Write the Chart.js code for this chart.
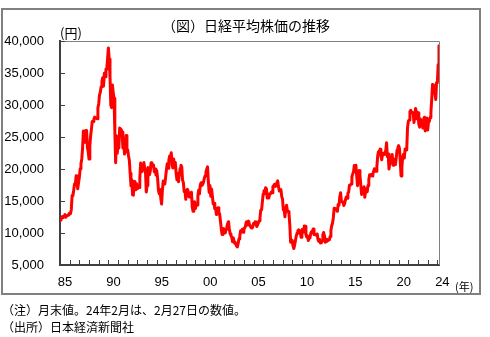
<!DOCTYPE html>
<html>
<head>
<meta charset="utf-8">
<script src="https://cdn.jsdelivr.net/npm/chart.js@4.4.1/dist/chart.umd.min.js"></script>
<style>
html,body{margin:0;padding:0;background:#fff;}
canvas{display:block;}
</style>
</head>
<body>
<canvas id="c" width="490" height="337"></canvas>
<script>
// Monthly month-end values of the Nikkei 225 (yen)
const close1985to1989 = [
  11992,12322,12580,12426,12639,12882,12461,12695,12700,12800,12985,13113,
  13024,13641,15860,15826,16670,17654,17555,18936,17853,16910,17852,18701,
  20024,20767,21567,23275,25929,24176,24488,26029,26011,23329,22687,21564,
  23622,25157,26260,27434,27417,27769,28102,27911,27924,27865,29579,30159,
  31581,31985,32839,33713,34266,32948,34954,34431,35636,35549,37268,38916
];
const close1990to1999 = [
  37189,34592,29980,29584,33131,31940,31036,25978,20984,25194,22454,23849,
  23293,26409,26292,26111,25790,23291,24121,22336,23916,25222,22688,22984,
  22023,21339,19346,17391,18348,15952,15910,18061,17399,16767,17684,16925,
  17024,17098,18591,20919,20552,19590,20380,21027,20106,19704,16408,17417,
  20229,19997,19112,19725,20974,20644,20449,20629,19564,19990,19076,19723,
  18650,16808,16140,16807,15437,14517,16678,18117,17913,17655,18744,19868,
  20813,20125,21407,22041,21956,22531,20693,20167,21556,20467,21020,19361,
  18330,18557,18003,19151,20069,20605,20331,18229,17888,16459,16631,15259,
  16628,16832,16527,15641,15671,15831,16379,14108,13406,13565,14884,13842,
  14499,14368,15837,16702,16112,17530,17862,17437,17605,17942,18558,18934
];
const close2000to2009 = [
  19540,19960,20337,17974,16332,17411,15727,16861,15747,14539,14649,13786,
  13844,12884,12999,13934,13262,12969,11861,10714,9775,10366,10697,10543,
  9998,10588,11025,11493,11764,10622,9878,9619,9383,8640,9216,8579,
  8340,8363,7973,7831,8425,9083,9563,10344,10219,10560,10101,10677,
  10784,11042,11715,11762,11236,11859,11326,11082,10824,10771,10899,11489,
  11388,11740,11669,11009,11277,11584,11900,12414,13574,13607,14872,16111,
  16650,16205,17060,16906,15467,15505,15457,16141,16128,16399,16274,17226,
  17383,17604,17288,17400,17876,18138,17249,16569,16786,16737,15681,15308,
  13592,13603,12526,13850,14339,13482,13377,13073,11260,8577,8512,8860,
  7994,7568,8110,8828,9523,9958,10357,10493,10133,10035,9346,10546
];
const close2010to2019 = [
  10198,10126,11090,11057,9769,9383,9537,8824,9369,9202,9937,10229,
  10238,10624,9755,9850,9694,9816,9833,8955,8700,8988,8434,8455,
  8803,9723,10084,9521,8543,9007,8695,8840,8870,8928,9446,10395,
  11139,11559,12398,13861,13775,13677,13668,13389,14456,14328,15662,16291,
  14915,14841,14828,14304,14632,15162,15621,15425,16174,16414,17460,17451,
  17674,18798,19207,19520,20563,20236,20585,18890,17388,19083,19747,19034,
  17518,16027,16759,16666,17235,15576,16569,16887,16450,17425,18308,19114,
  19041,19119,18909,19197,19651,20033,19925,19646,20356,22012,22725,22765,
  23098,22068,21454,22468,22202,22305,22554,22865,24120,21920,22351,20015,
  20773,21385,21206,22259,20601,21276,21522,20704,21756,22927,23294,23657
];
const close2020to2024 = [
  23205,21143,18917,20194,21878,22288,21710,23140,23185,22977,26434,27444,
  27663,28966,29179,28813,28860,28792,27284,28090,29453,28893,27822,28792,
  27002,26527,27821,26848,27280,26393,27802,28092,25937,27587,27969,26095,
  27327,27446,28041,28856,30888,33189,33172,32619,31858,30859,33487,33464,
  36287,39240
];
const startYear = 1985;
const xTickYears = [1985,1986,1987,1988,1989,1990,1991,1992,1993,1994,1995,1996,1997,1998,1999,
  2000,2001,2002,2003,2004,2005,2006,2007,2008,2009,2010,2011,2012,2013,2014,2015,2016,2017,2018,2019,
  2020,2021,2022,2023,2024];
const xLabelYears = [1985,1990,1995,2000,2005,2010,2015,2020,2024];
const yTicks = [5000,10000,15000,20000,25000,30000,35000,40000];
const titleText = '（図）日経平均株価の推移';
const yUnit = '(円)';
const xUnit = '(年)';
const note1 = '（注）月末値。24年2月は、2月27日の数値。';
const note2 = '（出所）日本経済新聞社';

const allValues = [].concat(close1985to1989, close1990to1999, close2000to2009, close2010to2019, close2020to2024);
const points = allValues.map((v, i) => ({ x: startYear + (i + 1) / 12, y: v }));

const numFont = "'Liberation Sans', Arial, sans-serif";
const jpFont = "'Noto Sans CJK JP', sans-serif";

const decor = {
  id: 'decor',
  afterDraw(chart) {
    const ctx = chart.ctx;
    const a = chart.chartArea;
    const xs = chart.scales.x, ys = chart.scales.y;
    ctx.save();
    // outer frame
    ctx.strokeStyle = '#808080';
    ctx.lineWidth = 2;
    ctx.strokeRect(2, 9, 478, 285);
    // plot top/right border
    ctx.lineWidth = 1;
    ctx.strokeStyle = '#808080';
    ctx.beginPath();
    ctx.moveTo(a.left, a.top + 0.5);
    ctx.lineTo(a.right + 0.5, a.top + 0.5);
    ctx.lineTo(a.right + 0.5, a.bottom);
    ctx.stroke();
    // inward ticks
    ctx.strokeStyle = '#404040';
    ctx.beginPath();
    xTickYears.forEach(yr => {
      const px = Math.round(xs.getPixelForValue(yr)) + 0.5;
      ctx.moveTo(px, a.bottom);
      ctx.lineTo(px, a.bottom - 5);
    });
    yTicks.forEach(v => {
      const py = Math.round(ys.getPixelForValue(v)) + 0.5;
      ctx.moveTo(a.left, py);
      ctx.lineTo(a.left + 5, py);
    });
    ctx.stroke();
    // texts
    ctx.fillStyle = '#000';
    ctx.textBaseline = 'middle';
    ctx.textAlign = 'center';
    ctx.font = '14px ' + jpFont;
    ctx.fillText(titleText, 246, 26);
    ctx.textAlign = 'left';
    ctx.font = '13px ' + jpFont;
    ctx.fillText(yUnit, 60, 33);
    ctx.font = '11px ' + jpFont;
    ctx.fillText(xUnit, 455, 287);
    ctx.font = '12px ' + jpFont;
    ctx.fillText(note1, 2, 310);
    ctx.fillText(note2, 2, 327);
    ctx.restore();
  }
};

new Chart(document.getElementById('c'), {
  type: 'line',
  data: {
    datasets: [{
      data: points,
      borderColor: '#ff0000',
      borderWidth: 3,
      borderJoinStyle: 'round',
      borderCapStyle: 'round',
      pointRadius: 0,
      tension: 0,
      fill: false
    }]
  },
  options: {
    responsive: false,
    animation: false,
    parsing: true,
    layout: { padding: { left: 4, top: 41, right: 51, bottom: 47 } },
    plugins: { legend: { display: false }, tooltip: { enabled: false }, title: { display: false } },
    scales: {
      x: {
        type: 'linear',
        min: 1985,
        max: 2024.17,
        afterBuildTicks(scale) { scale.ticks = xTickYears.map(v => ({ value: v })); },
        afterFit(scale) { scale.height = 25; },
        ticks: {
          autoSkip: false,
          maxRotation: 0,
          labelOffset: 5,
          padding: 10,
          color: '#000',
          font: { family: numFont, size: 13 },
          callback: (v) => xLabelYears.includes(v) ? String(v).slice(2) : ''
        },
        grid: { display: true, drawOnChartArea: false, drawTicks: false },
        border: { display: true, color: '#404040', width: 2 }
      },
      y: {
        min: 5000,
        max: 40000,
        afterBuildTicks(scale) { scale.ticks = yTicks.map(v => ({ value: v })); },
        afterFit(scale) { scale.width = 56; },
        ticks: {
          padding: 16,
          color: '#000',
          font: { family: numFont, size: 13 },
          callback: (v) => v.toLocaleString('en-US')
        },
        grid: { display: true, drawOnChartArea: false, drawTicks: false },
        border: { display: true, color: '#404040', width: 2 }
      }
    }
  },
  plugins: [decor]
});
</script>
</body>
</html>
